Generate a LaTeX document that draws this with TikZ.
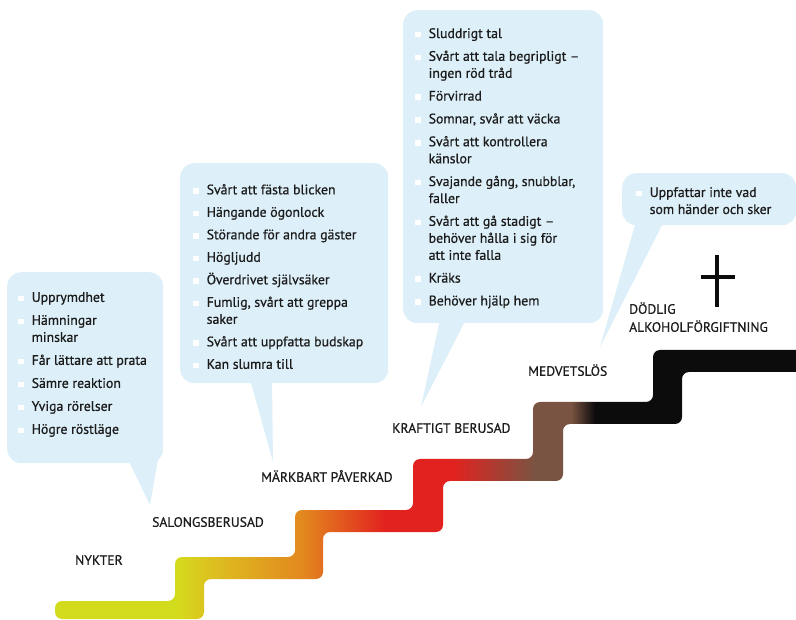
\documentclass[tikz,border=0pt]{standalone}
\usepackage{fontspec}
\setmainfont{PT Sans}
\newfontfamily\alfont{PT Sans}[FakeBold=0.7]
\usetikzlibrary{positioning}
\definecolor{alink}{HTML}{1C1C1C}
\definecolor{alsky}{HTML}{DDEFF8}
\definecolor{alyellow}{HTML}{D3DC1C}
\definecolor{alamber}{HTML}{DCC41F}
\definecolor{alorange}{HTML}{E3881F}
\definecolor{alred}{HTML}{E2221F}
\definecolor{albrown}{HTML}{7A5442}
\definecolor{alblack}{HTML}{0C0C0C}
% 25bp = left end of the stairs, 75bp = right end
\pgfdeclarehorizontalshading{alstairs}{100bp}{
  color(0bp)=(alyellow); color(25bp)=(alyellow); color(33bp)=(alyellow);
  color(35bp)=(alamber); color(41.5bp)=(alorange); color(47bp)=(alred);
  color(51.5bp)=(alred); color(57bp)=(albrown); color(59.4bp)=(albrown);
  color(61bp)=(alblack); color(100bp)=(alblack)}
\newcommand{\itm}{\makebox[13.5pt][l]{\textcolor{white}{\rule[0.7pt]{5.5pt}{5.5pt}}}}
\newcommand{\cnt}{\hspace*{13.5pt}}
\tikzset{
  al text/.style={font=\alfont\fontsize{13.8}{17}\selectfont, text=alink},
  al bubble/.style={fill=alsky, rounded corners=14pt, anchor=north west, inner sep=0pt},
  al tail/.style={fill=alsky},
  al list/.style={al text, align=left, anchor=north west, inner sep=0pt},
  al label/.style={font=\alfont\fontsize{13.6}{18}\selectfont, text=alink, anchor=west,
    inner sep=0pt, text height=9.6pt, text depth=0pt},
  al cross/.style={draw=alblack, line width=3.6pt}
}

\begin{document}
\begin{tikzpicture}[x=1pt, y=-1pt]
  \useasboundingbox (0,0) rectangle (796,620);

  % the stairs
  \shade[shading=alstairs, rounded corners=7pt]
    (55,619) -- (55,601) -- (175,601) -- (175,557) -- (295,557) -- (295,510)
    -- (413,510) -- (413,459) -- (533,459) -- (533,402) -- (653,402) -- (653,350)
    -- (805,350) -- (805,372) -- (682,372) -- (682,424) -- (563,424) -- (563,481)
    -- (443,481) -- (443,532) -- (323,532) -- (323,579) -- (204,579) -- (204,619) -- cycle;

  % speech bubbles
  \node[al bubble, minimum width=156, minimum height=191] (b1) at (7,272) {};
  \node[al bubble, minimum width=208, minimum height=220] (b2) at (180,163) {};
  \node[al bubble, minimum width=200, minimum height=313] (b3) at (403,10) {};
  \node[al bubble, minimum width=174, minimum height=52] (b4) at (622,173) {};

  \coordinate (t1) at (150,505);
  \coordinate (t2) at (273,462);
  \coordinate (t3) at (421,407);
  \coordinate (t4) at (600,347);
  \fill[al tail] ([shift={(121,-4)}]b1.south west) -- ([shift={(151,-4)}]b1.south west) -- (t1) -- cycle;
  \fill[al tail] ([shift={(70,-4)}]b2.south west) -- ([shift={(92,-4)}]b2.south west) -- (t2) -- cycle;
  \fill[al tail] ([shift={(37,-4)}]b3.south west) -- ([shift={(63,-4)}]b3.south west) -- (t3) -- cycle;
  \fill[al tail] ([shift={(14,-4)}]b4.south west) -- ([shift={(42,-4)}]b4.south west) -- (t4) -- cycle;

  \node[al list] (l1) at ([shift={(11,20)}]b1.north west) {%
    \itm Upprymdhet\\[6pt]
    \itm Hämningar\\ \cnt minskar\\[6pt]
    \itm Får lättare att prata\\[6pt]
    \itm Sämre reaktion\\[6pt]
    \itm Yviga rörelser\\[6pt]
    \itm Högre röstläge};
  \node[al list] (l2) at ([shift={(13,21)}]b2.north west) {%
    \itm Svårt att fästa blicken\\[5.5pt]
    \itm Hängande ögonlock\\[5.5pt]
    \itm Störande för andra gäster\\[5.5pt]
    \itm Högljudd\\[5.5pt]
    \itm Överdrivet självsäker\\[5.5pt]
    \itm Fumlig, svårt att greppa\\ \cnt saker\\[5.5pt]
    \itm Svårt att uppfatta budskap\\[5.5pt]
    \itm Kan slumra till};
  \node[al list] (l3) at ([shift={(12,18)}]b3.north west) {%
    \itm Sluddrigt tal\\[5.8pt]
    \itm Svårt att tala begripligt –\\ \cnt ingen röd tråd\\[5.8pt]
    \itm Förvirrad\\[5.8pt]
    \itm Somnar, svår att väcka\\[5.8pt]
    \itm Svårt att kontrollera\\ \cnt känslor\\[5.8pt]
    \itm Svajande gång, snubblar,\\ \cnt faller\\[5.8pt]
    \itm Svårt att gå stadigt –\\ \cnt behöver hålla i sig för\\ \cnt att inte falla\\[5.8pt]
    \itm Kräks\\[5.8pt]
    \itm Behöver hjälp hem};
  \node[al list] (l4) at ([shift={(14,14)}]b4.north west) {%
    \itm Uppfattar inte vad\\ \cnt som händer och sker};

  % stage names
  \node[al label] (nykter) at (75,560) {NYKTER};
  \node[al label] (salong) at (152,522) {SALONGSBERUSAD};
  \node[al label] (markbart) at (261,477) {MÄRKBART PÅVERKAD};
  \node[al label] (kraftigt) at (392,428) {KRAFTIGT BERUSAD};
  \node[al label] (medvets) at (528,371) {MEDVETSLÖS};
  \node[al label] (dodlig) at (629,309) {DÖDLIG};
  \node[al label] (forgift) at (629,327) {ALKOHOLFÖRGIFTNING};

  % cross
  \draw[al cross] (717,255) -- (717,307);
  \draw[al cross] (701,277) -- (735,277);
\end{tikzpicture}
\end{document}
